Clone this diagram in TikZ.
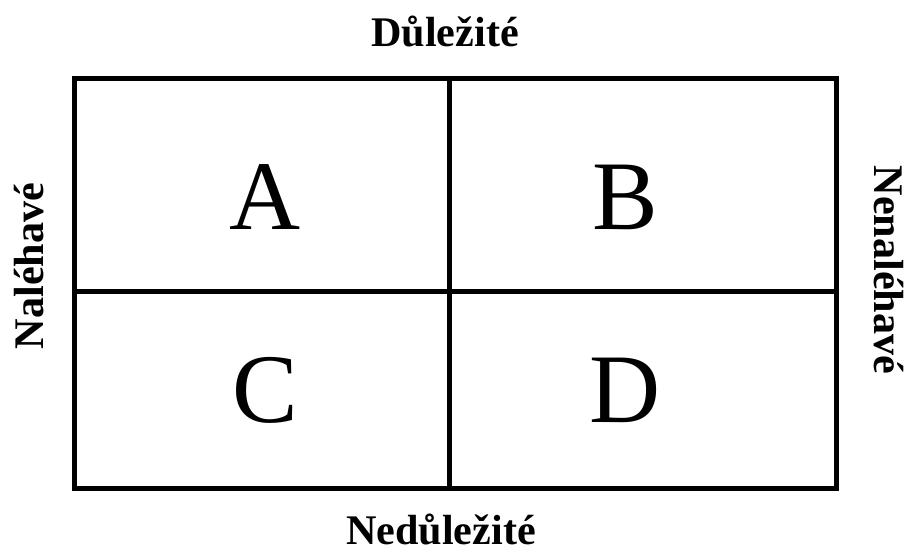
\documentclass[tikz,border=0pt]{standalone}
\usepackage{fontspec}
\setmainfont{Liberation Serif}
\usetikzlibrary{positioning}

\begin{document}
\begin{tikzpicture}[
  x=0.02cm, y=-0.02cm,
  grid/.style={line width=0.1cm, black},
  axislabel/.style={font=\fontsize{24}{28}\selectfont\bfseries, inner sep=0pt, anchor=base},
  quadrant/.style={font=\fontsize{56}{64}\selectfont, inner sep=0pt},
]
  \useasboundingbox (0,0) rectangle (907,551);

  % Matrix frame
  \coordinate (nw) at (74,78);
  \coordinate (se) at (836,488);
  \coordinate (top) at (449,78);
  \coordinate (bottom) at (449,488);
  \coordinate (left) at (74,291);
  \coordinate (right) at (836,291);
  \draw[grid] (nw) rectangle (se);
  \draw[grid] (top) -- (bottom);
  \draw[grid] (left) -- (right);

  % Quadrants
  \node[quadrant] (qa) at (265,197) {A};
  \node[quadrant] (qb) at (625,197) {B};
  \node[quadrant] (qc) at (265,390) {C};
  \node[quadrant] (qd) at (625,390) {D};

  % Axis labels
  \node[axislabel] (important) at (445,47) {Důležité};
  \node[axislabel] (unimportant) at (441,544) {Nedůležité};
  \node[axislabel, rotate=90] (urgent) at (43,266) {Naléhavé};
  \node[axislabel, rotate=-90] (noturgent) at (874,270) {Nenaléhavé};
\end{tikzpicture}
\end{document}
